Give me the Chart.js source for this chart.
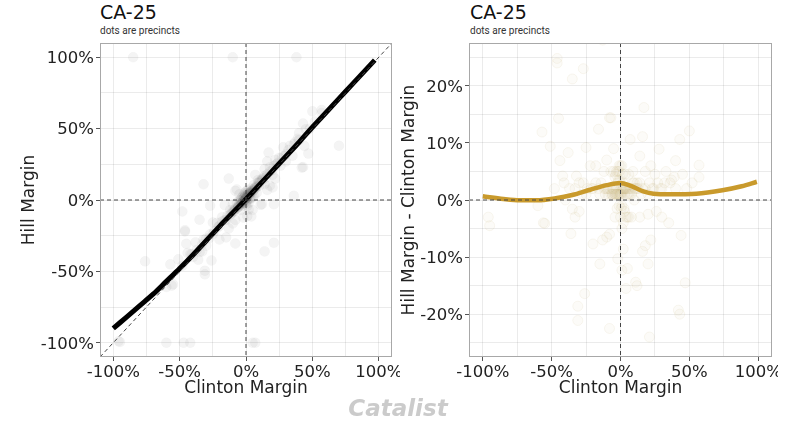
<!DOCTYPE html>
<html>
<head>
<meta charset="utf-8">
<script src="https://cdn.jsdelivr.net/npm/chart.js@4"></script>
<style>
    body { margin: 0; background: #fff; width: 786px; height: 429px; overflow: hidden; position: relative; }
    canvas { position: absolute; top: 0; }
    #leftChart { left: 0; }
    #rightChart { left: 395px; }
    .title { position: absolute; top: 3px; font: 19px/19px 'DejaVu Sans', sans-serif; color: #111; }
    .subtitle { position: absolute; top: 26px; font: 10px/10px Roboto, sans-serif; color: #333; }
    .brand { position: absolute; left: 300px; width: 196px; top: 396px; text-align: center;
             font: italic bold 23px/25px 'DejaVu Sans', sans-serif; color: #cbcbcb; }
</style>
</head>
<body>
<div class="title" style="left:100px">CA-25</div>
<div class="subtitle" style="left:100px">dots are precincts</div>
<div class="title" style="left:470px">CA-25</div>
<div class="subtitle" style="left:470px">dots are precincts</div>
<canvas id="leftChart" width="400" height="429"></canvas>
<canvas id="rightChart" width="383" height="429"></canvas>
<div class="brand">Catalist</div>
<script>
// axis grid values and labelled ticks (percent)
const xGrid = [-100, -75, -50, -25, 0, 25, 50, 75, 100];
const xLabels = [-100, -50, 0, 50, 100];
const leftYGrid = [-100, -75, -50, -25, 0, 25, 50, 75, 100];
const leftYLabels = [-100, -50, 0, 50, 100];
const rightYGrid = [-25, -20, -15, -10, -5, 0, 5, 10, 15, 20, 25];
const rightYLabels = [-20, -10, 0, 10, 20];

// precincts: Clinton margin and Hill margin (percent)
const precinctClinton = [
    -46, -27, -35, -45, -57, -51, -38, -25, -16, -8, -44, -32, -42, -10, -5, -3, -12, -4, -1,
    17, -7, 50, 16, 43, 7, 28, 14, 40, 57, 33, 45, 57, 37, 25, 6, -18, -22,
    -96, -95, -55, -35, -30, -33, -36, -20, -10, -15, -26, -31, -31, -8, 1, 4, -2, 2, 5, 11,
    20, 47, 42, 44, 22, 18, 16, -8, -13, 14, 20, 30, 35, 8, 26,
    0, 2, -2, 1, -1, 3, -3, 5, -6, 8, 10, 12, -9, 15, -15, -20, 20, 24, -25, 0, 1, -2, 4, 6,
    -4, 9, 18, 22, -28, 30, 40, 48, -40, -48, -60, 52, -5, 3,
    0, 1, -1, 2, -2, 3, -3, 4, -4, 6, -6, 7, 10, -11, 13,
    -1, 0, 1, -2, 2, -3, 3, -4, 4, -5, 5, -6, 6, -7, 7, -8, 8, -9, 9, -10, 10, -11, 11, -12, 12,
    -14, 14, -16, 16, -18, 18, -21, 21, -24, 23, -27, 27, -30, 29, -33, 32, -37, 36, -41, 39,
    -0.5, 0.5, 1.5, -1.5, 2.5, -2.5, 3.5, -3.5, 0, 1, -1, 2, 5, -5, -7,
    -85, -10, 38, -60, -47, -42, 5, 7, -32, -13, 70, 43, 36, -48, -46, -76, -56, 14, 21, 21, 12
];
const precinctHill = [
    -21.2, -4, -13.8, -30.7, -45.1, -41.6, -29.7, -15.8, -3.6, 6.4, -37.1, -27.8, -37.8, -3, 4, 2, -7, 0, 5,
    33.2, 7.4, 62.1, 27.1, 53.6, 17.6, 36.9, 21.7, 46.9, 63.1, 38, 49.5, 61, 40.5, 29.5, 10.5, -12, -16,
    -99, -99.5, -59.1, -36.6, -32, -36, -41.9, -27.7, -16.5, -26.2, -42.4, -49.6, -52.1, -30.5, -11.3, -11.5, -12.3, -6.6, -7, -3.4,
    8.8, 32.5, 22.7, 37.8, 15, 10, 7, -14, -20, 11, 17.5, 27, 31, 5, 24,
    2, 5, 1, 0, -2, 4, -1, 7, -5, 10, 10, 15, -8, 16, -14, -18, 21, 26, -24, 6, -4, 3, 1, 3,
    -7, 14, 23, 28, -27, 32, 42, 50, -40, -46, -61, 55, -4, 1,
    1, 3, 0, 4, -1, 5, -2, 6, -3, 7, -5, 9, 12, -10, 15,
    0, 1, 2, -1, 4, -2, 5, -3, 6, -3, 6, -4, 8, -6, 8, -6, 9, -7, 12, -8, 13, -9, 13, -10, 14,
    -11, 17, -14, 18, -15, 20, -19, 24, -22, 25, -24, 30, -27, 31, -31, 35, -35, 39, -38, 43,
    3, -1, 6, 2, 1, -4, 8, 1, -3, 7, 4, -2, 2, 0, -2,
    100, 100, 100, -100, -100, -100, -100, -100, 11, 15, 38, 23, 3, -8, -22, -43, -60, -36, -30, -3, -3
];

// smoothed fits
const leftFitX = [-100, -90, -80, -70, -60, -50, -40, -30, -20, -10, 0, 10, 20, 30, 40, 50, 60, 70, 80, 90, 97];
const leftFitY = [-90, -82, -74, -66, -57, -48, -38.5, -28.5, -18.5, -9, 0.5, 10.5, 20.5, 30.5, 40.5, 51, 61, 71, 81, 91, 98];
const rightFitX = [-100, -85, -73, -61, -47, -35, -22, -10, 0, 7, 16, 24, 36, 55, 74, 88, 99];
const rightFitY = [0.65, 0.17, -0.05, -0.05, 0.3, 0.87, 1.8, 2.6, 2.97, 2.5, 1.57, 1.1, 1.0, 1.1, 1.7, 2.4, 3.2];

const pts = (xs, ys) => xs.map((x, i) => ({ x, y: ys[i] }));

function axisScale(min, max, grid, labels, title, fitSize, isX) {
    return {
        type: 'linear',
        min, max,
        afterBuildTicks: s => { s.ticks = grid.map(v => ({ value: v })); },
        afterFit: s => {
            if (isX) s.height = fitSize; else s.width = fitSize;
            s.paddingLeft = 0; s.paddingRight = 0; s.paddingTop = 0; s.paddingBottom = 0;
        },
        grid: {
            color: 'rgba(0,0,0,0.08)',
            lineWidth: 1,
            tickLength: 4,
            tickColor: ctx => labels.includes(ctx.tick.value) ? '#555' : 'rgba(0,0,0,0)'
        },
        border: { display: false },
        ticks: {
            autoSkip: false, maxRotation: 0, padding: 2,
            labelOffset: isX ? 0 : 1.5,
            color: '#222',
            font: { family: 'DejaVu Sans', size: 16.5 },
            callback: v => labels.includes(v) ? v + '%' : ''
        },
        title: {
            display: true, text: title, color: '#222',
            font: { family: 'DejaVu Sans', size: 17 },
            padding: { top: 4, bottom: 0 }
        }
    };
}

// panel border and dashed reference lines, placed through the scales
const refLines = {
    id: 'refLines',
    afterDatasetsDraw(chart, args, opts) {
        const { ctx, chartArea: a, scales: { x, y } } = chart;
        ctx.save();
        ctx.beginPath();
        ctx.rect(a.left, a.top, a.right - a.left, a.bottom - a.top);
        ctx.clip();
        ctx.strokeStyle = '#444';
        ctx.lineWidth = 1;
        ctx.setLineDash([4, 3]);
        const x0 = x.getPixelForValue(0), y0 = y.getPixelForValue(0);
        ctx.beginPath();
        ctx.moveTo(x0, a.top); ctx.lineTo(x0, a.bottom);
        ctx.moveTo(a.left, y0); ctx.lineTo(a.right, y0);
        if (opts.diagonal) {
            ctx.moveTo(x.getPixelForValue(x.min), y.getPixelForValue(x.min));
            ctx.lineTo(x.getPixelForValue(x.max), y.getPixelForValue(x.max));
        }
        ctx.stroke();
        ctx.restore();
        ctx.save();
        ctx.strokeStyle = '#a8a8a8';
        ctx.lineWidth = 1;
        ctx.strokeRect(a.left + 0.5, a.top + 0.5, a.right - a.left - 1, a.bottom - a.top - 1);
        ctx.restore();
    }
};

new Chart(document.getElementById('leftChart'), {
    type: 'scatter',
    data: {
        datasets: [{
            data: pts(leftFitX, leftFitY),
            showLine: true,
            cubicInterpolationMode: 'monotone',
            borderColor: '#000',
            borderWidth: 5,
            pointRadius: 0,
            order: 1
        }, {
            data: pts(precinctClinton, precinctHill),
            backgroundColor: 'rgba(0,0,0,0.045)',
            borderColor: 'rgba(0,0,0,0.02)',
            borderWidth: 1,
            pointRadius: 5,
            order: 2
        }]
    },
    options: {
        responsive: false,
        animation: false,
        layout: { padding: { left: 15, top: 43, right: 8, bottom: 30 } },
        scales: {
            x: axisScale(-110, 110, xGrid, xLabels, 'Clinton Margin', 42, true),
            y: axisScale(-110, 110, leftYGrid, leftYLabels, 'Hill Margin', 85, false)
        },
        plugins: { legend: { display: false }, tooltip: { enabled: false }, refLines: { diagonal: true } }
    },
    plugins: [refLines]
});

new Chart(document.getElementById('rightChart'), {
    type: 'scatter',
    data: {
        datasets: [{
            data: pts(rightFitX, rightFitY),
            showLine: true,
            cubicInterpolationMode: 'monotone',
            borderColor: '#c99a2c',
            borderWidth: 4.5,
            pointRadius: 0,
            order: 1
        }, {
            data: precinctClinton.map((c, i) => ({ x: c, y: precinctHill[i] - c })),
            backgroundColor: 'rgba(210,190,130,0.06)',
            borderColor: 'rgba(190,165,100,0.09)',
            borderWidth: 1,
            pointRadius: 5,
            order: 2
        }]
    },
    options: {
        responsive: false,
        animation: false,
        layout: { padding: { left: 0, top: 43, right: 5, bottom: 30 } },
        scales: {
            x: axisScale(-110, 110, xGrid, xLabels, 'Clinton Margin', 42, true),
            y: axisScale(-27.5, 27.5, rightYGrid, rightYLabels, 'Hill Margin - Clinton Margin', 74, false)
        },
        plugins: { legend: { display: false }, tooltip: { enabled: false }, refLines: { diagonal: false } }
    },
    plugins: [refLines]
});
</script>
</body>
</html>
